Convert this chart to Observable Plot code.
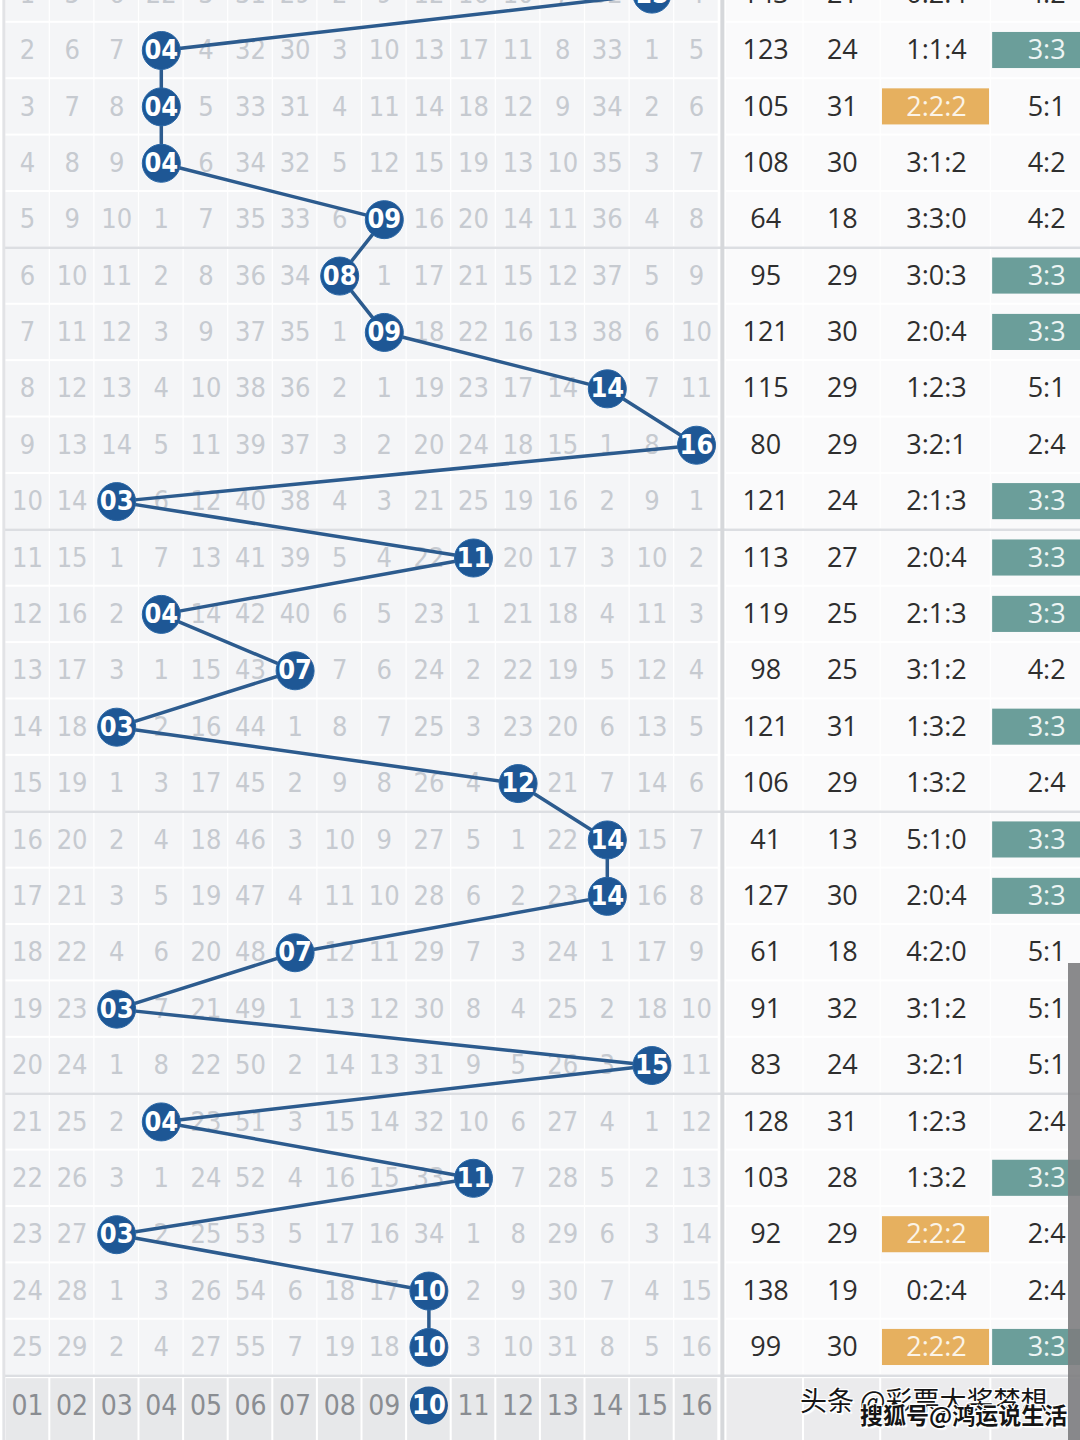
<!DOCTYPE html>
<html>
<head>
<meta charset="utf-8">
<script src="https://cdn.jsdelivr.net/npm/d3@7"></script>
<script src="https://cdn.jsdelivr.net/npm/@observablehq/plot@0.6"></script>
<style>
  html, body { margin: 0; padding: 0; background: #fff; }
  #wrap { position: relative; width: 1080px; height: 1440px; overflow: hidden; }
  #wrap svg { display: block; }
  .wm { position: absolute; font-family: "Noto Sans CJK SC", sans-serif; color: #151515; white-space: nowrap;
        text-shadow: 1px 1px 0 #fff, -1px -1px 0 #fff, 1px -1px 0 #fff, -1px 1px 0 #fff, 2px 2px 1px #fff; }
  #scrollbar { position: absolute; left: 1068px; top: 963px; width: 12px; height: 477px; background: rgba(125,125,128,0.9); }
</style>
</head>
<body>
<div id="wrap"></div>
<script>
// ---------------- DATA ----------------
const numbers = ["01","02","03","04","05","06","07","08","09","10","11","12","13","14","15","16"];
// drawn number (column) for each issue row, row 0 is partly cut off at the top
const draws = [15, 4, 4, 4, 9, 8, 9, 14, 16, 3, 11, 4, 7, 3, 12, 14, 14, 7, 3, 15, 4, 11, 3, 10, 10];
// omission counts per row (0 = drawn in that row)
const omissions = [
  [1, 5, 6, 22, 3, 31, 29, 2, 9, 12, 16, 10, 7, 32, 0, 4],
  [2, 6, 7, 0, 4, 32, 30, 3, 10, 13, 17, 11, 8, 33, 1, 5],
  [3, 7, 8, 0, 5, 33, 31, 4, 11, 14, 18, 12, 9, 34, 2, 6],
  [4, 8, 9, 0, 6, 34, 32, 5, 12, 15, 19, 13, 10, 35, 3, 7],
  [5, 9, 10, 1, 7, 35, 33, 6, 0, 16, 20, 14, 11, 36, 4, 8],
  [6, 10, 11, 2, 8, 36, 34, 0, 1, 17, 21, 15, 12, 37, 5, 9],
  [7, 11, 12, 3, 9, 37, 35, 1, 0, 18, 22, 16, 13, 38, 6, 10],
  [8, 12, 13, 4, 10, 38, 36, 2, 1, 19, 23, 17, 14, 0, 7, 11],
  [9, 13, 14, 5, 11, 39, 37, 3, 2, 20, 24, 18, 15, 1, 8, 0],
  [10, 14, 0, 6, 12, 40, 38, 4, 3, 21, 25, 19, 16, 2, 9, 1],
  [11, 15, 1, 7, 13, 41, 39, 5, 4, 22, 0, 20, 17, 3, 10, 2],
  [12, 16, 2, 0, 14, 42, 40, 6, 5, 23, 1, 21, 18, 4, 11, 3],
  [13, 17, 3, 1, 15, 43, 0, 7, 6, 24, 2, 22, 19, 5, 12, 4],
  [14, 18, 0, 2, 16, 44, 1, 8, 7, 25, 3, 23, 20, 6, 13, 5],
  [15, 19, 1, 3, 17, 45, 2, 9, 8, 26, 4, 0, 21, 7, 14, 6],
  [16, 20, 2, 4, 18, 46, 3, 10, 9, 27, 5, 1, 22, 0, 15, 7],
  [17, 21, 3, 5, 19, 47, 4, 11, 10, 28, 6, 2, 23, 0, 16, 8],
  [18, 22, 4, 6, 20, 48, 0, 12, 11, 29, 7, 3, 24, 1, 17, 9],
  [19, 23, 0, 7, 21, 49, 1, 13, 12, 30, 8, 4, 25, 2, 18, 10],
  [20, 24, 1, 8, 22, 50, 2, 14, 13, 31, 9, 5, 26, 3, 0, 11],
  [21, 25, 2, 0, 23, 51, 3, 15, 14, 32, 10, 6, 27, 4, 1, 12],
  [22, 26, 3, 1, 24, 52, 4, 16, 15, 33, 0, 7, 28, 5, 2, 13],
  [23, 27, 0, 2, 25, 53, 5, 17, 16, 34, 1, 8, 29, 6, 3, 14],
  [24, 28, 1, 3, 26, 54, 6, 18, 17, 0, 2, 9, 30, 7, 4, 15],
  [25, 29, 2, 4, 27, 55, 7, 19, 18, 0, 3, 10, 31, 8, 5, 16]
];
const sums   = [143, 123, 105, 108, 64, 95, 121, 115, 80, 121, 113, 119, 98, 121, 106, 41, 127, 61, 91, 83, 128, 103, 92, 138, 99];
const spans  = [21, 24, 31, 30, 18, 29, 30, 29, 29, 24, 27, 25, 25, 31, 29, 13, 30, 18, 32, 24, 31, 28, 29, 19, 30];
const ratioA = ["0:2:4","1:1:4","2:2:2","3:1:2","3:3:0","3:0:3","2:0:4","1:2:3","3:2:1","2:1:3","2:0:4","2:1:3","3:1:2",
                "1:3:2","1:3:2","5:1:0","2:0:4","4:2:0","3:1:2","3:2:1","1:2:3","1:3:2","2:2:2","0:2:4","2:2:2"];
const ratioB = ["4:2","3:3","5:1","4:2","4:2","3:3","3:3","5:1","2:4","3:3","3:3","3:3","4:2",
                "3:3","2:4","3:3","3:3","5:1","5:1","5:1","2:4","3:3","2:4","2:4","3:3"];
const highlightA = "2:2:2";
const highlightB = "3:3";

// ---------------- LAYOUT (column / row units) ----------------
const W = 1080, H = 1440;
const colPx = 44.6, col1Px = 27;      // number columns 1..16
const rowPx = 56.39, row1Px = 50;     // row 1 centre
const xDomain = [1 + (0 - col1Px) / colPx, 1 + (W - col1Px) / colPx];
const yDomain = [1 + (0 - row1Px) / rowPx, 1 + (H - row1Px) / rowPx];
const gridLeft = 0.47, sepX = 16.58, tableRight = 24.8;
const rightCols = [
  {key: "sum",  x1: 16.66, x2: 18.4,  cx: 17.55},
  {key: "span", x1: 18.4,  x2: 20.13, cx: 19.27},
  {key: "ra",   x1: 20.13, x2: 22.6,  cx: 21.38},
  {key: "rb",   x1: 22.6,  x2: 24.8,  cx: 23.85}
];
const boxA = [20.17, 22.57], boxB = [22.64, 24.8], boxHalf = 0.32;
const groupBreaks = [4.5, 9.5, 14.5, 19.5, 24.5];
const footerRow = 25.03;

const narrow = '"Liberation Sans Narrow", "DejaVu Sans Condensed", "Roboto Condensed", Roboto, sans-serif';
const wide = '"Open Sans", Lato, "DejaVu Sans", sans-serif';
const blue = "#1e5795", lineBlue = "#2c5b8e";

// ---------------- DERIVED TABLES ----------------
const rowIdx = d3.range(omissions.length);
const cells = rowIdx.flatMap(r => omissions[r].map((v, i) => ({r, c: i + 1, v})));
const drawPts = draws.map((c, r) => ({r, c}));
const rightCells = rowIdx.flatMap(r => rightCols.map(col => ({r, ...col})));
const footerCells = numbers.map((n, i) => ({n, c: i + 1}));
const lastDraw = draws[draws.length - 1];
const rows = rowIdx.map(r => ({r, sum: sums[r], span: spans[r], ra: ratioA[r], rb: ratioB[r]}));

const chart = Plot.plot({
  width: W, height: H, margin: 0,
  x: {type: "linear", domain: xDomain, range: [0, W], axis: null},
  y: {type: "linear", domain: yDomain, range: [0, H], axis: null},
  style: {background: "#ffffff", overflow: "hidden"},
  marks: [
    // left grid cells
    Plot.rect(cells, {x1: d => d.c - 0.5, x2: d => d.c + 0.5, y1: d => d.r - 0.5, y2: d => d.r + 0.5,
      fill: "#f4f5f7", insetTop: 1, insetBottom: 1, insetLeft: 0.6, insetRight: 0.6}),
    // right table cells
    Plot.rect(rightCells, {x1: "x1", x2: "x2", y1: d => d.r - 0.5, y2: d => d.r + 0.5,
      fill: "#fafafb", insetTop: 1, insetBottom: 1, insetLeft: 0.6, insetRight: 0.6}),
    // footer band
    Plot.rect(footerCells, {x1: d => d.c - 0.5, x2: d => d.c + 0.5, y1: () => 24.5, y2: () => yDomain[1] + 1,
      fill: "#e7e8ea", insetLeft: 1, insetRight: 1, insetTop: 3}),
    Plot.rect(rightCols, {x1: "x1", x2: "x2", y1: () => 24.5, y2: () => yDomain[1] + 1,
      fill: "#ebebed", insetLeft: 1, insetRight: 1, insetTop: 3}),
    // separators
    Plot.ruleY(groupBreaks, {x1: gridLeft, x2: tableRight, stroke: "#dcdee2", strokeWidth: 2.5}),
    Plot.ruleX([sepX], {y1: yDomain[0] - 1, y2: yDomain[1] + 1, stroke: "#d6d8db", strokeWidth: 4}),
    Plot.ruleX([gridLeft], {y1: yDomain[0] - 1, y2: yDomain[1] + 1, stroke: "#e2e3e6", strokeWidth: 3}),
    // omission numbers
    Plot.text(cells.filter(d => d.v > 0), {x: "c", y: "r", text: d => String(d.v),
      fill: "#c6cad0", fontSize: 27, fontFamily: narrow}),
    // trend line and drawn balls
    Plot.line(drawPts, {x: "c", y: "r", stroke: lineBlue, strokeWidth: 3.5}),
    Plot.dot(drawPts, {x: "c", y: "r", r: 19, fill: blue, stroke: "#2a67a6", strokeWidth: 1}),
    Plot.text(drawPts, {x: "c", y: "r", text: d => numbers[d.c - 1], fill: "#ffffff",
      fontSize: 27, fontWeight: "bold", fontFamily: narrow, letterSpacing: -1}),
    // footer numbers
    Plot.text(footerCells.filter(d => d.c !== lastDraw), {x: "c", y: () => footerRow, text: "n",
      fill: "#8a8d92", fontSize: 28, fontFamily: narrow}),
    Plot.dot([lastDraw], {x: d => d, y: () => footerRow, r: 19, fill: blue}),
    Plot.text([lastDraw], {x: d => d, y: () => footerRow, text: d => numbers[d - 1], fill: "#fff",
      fontSize: 27, fontWeight: "bold", fontFamily: narrow, letterSpacing: -1}),
    // right table highlights
    Plot.rect(rows.filter(d => d.ra === highlightA), {x1: () => boxA[0], x2: () => boxA[1],
      y1: d => d.r - boxHalf, y2: d => d.r + boxHalf, fill: "#e6b05f"}),
    Plot.rect(rows.filter(d => d.rb === highlightB), {x1: () => boxB[0], x2: () => boxB[1],
      y1: d => d.r - boxHalf, y2: d => d.r + boxHalf, fill: "#6b9e9a"}),
    // right table texts
    Plot.text(rows, {x: () => rightCols[0].cx, y: "r", text: d => String(d.sum), fill: "#2e2e2e", fontSize: 27, fontFamily: wide}),
    Plot.text(rows, {x: () => rightCols[1].cx, y: "r", text: d => String(d.span), fill: "#2e2e2e", fontSize: 27, fontFamily: wide}),
    Plot.text(rows, {x: () => rightCols[2].cx, y: "r", text: "ra",
      fill: d => d.ra === highlightA ? "#fbf4e8" : "#2e2e2e", fontSize: 27, fontFamily: wide}),
    Plot.text(rows, {x: () => rightCols[3].cx, y: "r", text: "rb",
      fill: d => d.rb === highlightB ? "#eef5f4" : "#2e2e2e", fontSize: 27, fontFamily: wide})
  ]
});

const wrap = document.getElementById("wrap");
wrap.appendChild(chart);

const wm1 = document.createElement("div");
wm1.className = "wm";
wm1.style.cssText = "left:800px; top:1380px; font-size:27px;";
wm1.textContent = "头条 @彩票大奖梦想";
const wm2 = document.createElement("div");
wm2.className = "wm";
wm2.style.cssText = "left:860px; top:1397px; font-size:23px; font-weight:bold;";
wm2.textContent = "搜狐号@鸿运说生活";
const sb = document.createElement("div");
sb.id = "scrollbar";
wrap.appendChild(wm1);
wrap.appendChild(wm2);
wrap.appendChild(sb);
</script>
</body>
</html>
